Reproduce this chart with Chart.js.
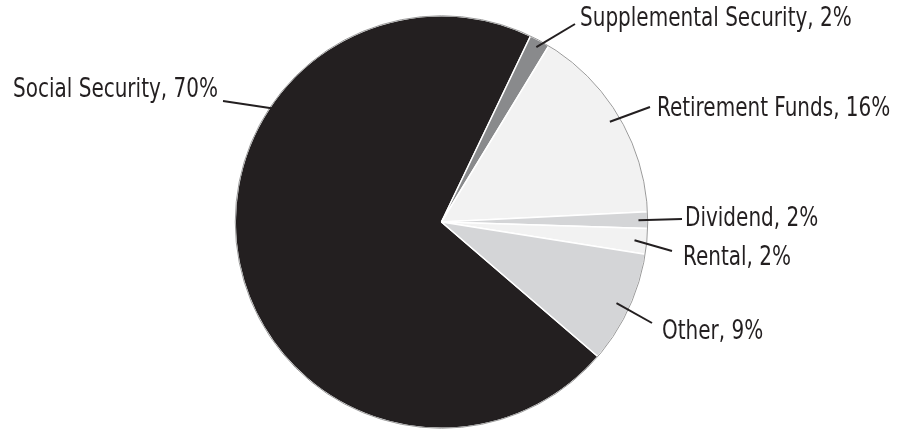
<!DOCTYPE html>
<html>
<head>
<meta charset="utf-8">
<script src="https://cdn.jsdelivr.net/npm/chart.js@4/dist/chart.umd.min.js"></script>
<style>
  html, body { margin: 0; padding: 0; background: #fff; }
  #wrap { width: 897px; height: 431px; position: relative; }
</style>
</head>
<body>
<div id="wrap"><canvas id="chartIncome"></canvas></div>
<script>
const categories = ['Social Security', 'Supplemental Security', 'Retirement Funds', 'Dividend', 'Rental', 'Other'];
const shares = [70.8, 1.6, 15.5, 1.3, 2.0, 8.8];
const pctLabels = ['70%', '2%', '16%', '2%', '2%', '9%'];
const sliceColors = ['#231f20', '#898a8c', '#f2f2f2', '#d4d5d7', '#f2f2f2', '#d4d5d7'];

// label placement: text left/baseline, leader outer end, leader angle override
const labelLayout = [
  { tx: 13, ty: 97, lx: 223, ly: 101, angle: 304, k: 0.985 },
  { tx: 580, ty: 26, lx: 575, ly: 24, k: 0.965 },
  { tx: 657, ty: 116, lx: 650, ly: 107, k: 0.95 },
  { tx: 685, ty: 226, lx: 682, ly: 219, k: 0.955 },
  { tx: 683, ty: 265, lx: 672, ly: 251, k: 0.94 },
  { tx: 662, ty: 339, lx: 652, ly: 323, k: 0.935 }
];

const INK = '#231f20';
const FONT = '26px "Liberation Sans Narrow", "DejaVu Sans Condensed", "Arial Narrow", sans-serif';
// the reference face is narrower than anything installed, squeeze to fit
const REF_WIDTH = 205; // width of "Social Security, 70%"

const outlinePlugin = {
  id: 'outline',
  afterDatasetsDraw(chart) {
    const arc = chart.getDatasetMeta(0).data[0];
    const ctx = chart.ctx;
    ctx.save();
    ctx.beginPath();
    ctx.arc(arc.x, arc.y, arc.outerRadius, 0, Math.PI * 2);
    ctx.strokeStyle = '#9a9a9a';
    ctx.lineWidth = 1;
    ctx.stroke();
    ctx.restore();
  }
};

const calloutPlugin = {
  id: 'callouts',
  afterDraw(chart) {
    const ctx = chart.ctx;
    const arcs = chart.getDatasetMeta(0).data;
    ctx.save();
    ctx.font = FONT;
    ctx.fillStyle = INK;
    ctx.strokeStyle = INK;
    ctx.lineWidth = 2;
    ctx.textAlign = 'left';
    ctx.textBaseline = 'alphabetic';
    const squeeze = REF_WIDTH / ctx.measureText(categories[0] + ', ' + pctLabels[0]).width;
    arcs.forEach((arc, i) => {
      const pos = labelLayout[i];
      let a;
      if (pos.angle !== undefined) {
        a = pos.angle * Math.PI / 180 - Math.PI / 2;
      } else {
        a = (arc.startAngle + arc.endAngle) / 2;
      }
      const ix = arc.x + Math.cos(a) * arc.outerRadius * pos.k;
      const iy = arc.y + Math.sin(a) * arc.outerRadius * pos.k;
      ctx.beginPath();
      ctx.moveTo(ix, iy);
      ctx.lineTo(pos.lx, pos.ly);
      ctx.stroke();
      ctx.save();
      ctx.translate(pos.tx, pos.ty);
      ctx.scale(squeeze, 1);
      ctx.fillText(categories[i] + ', ' + pctLabels[i], 0, 0);
      ctx.restore();
    });
    ctx.restore();
  }
};

new Chart(document.getElementById('chartIncome'), {
  type: 'pie',
  data: {
    labels: categories,
    datasets: [
      {
        data: shares,
        backgroundColor: sliceColors,
        borderColor: '#ffffff',
        borderWidth: 1.5
      }
    ]
  },
  options: {
    responsive: true,
    maintainAspectRatio: false,
    animation: false,
    rotation: 130.7,
    layout: { padding: { top: 15, bottom: 2, left: 0, right: 14 } },
    plugins: {
      legend: { display: false },
      tooltip: { enabled: false }
    }
  },
  plugins: [outlinePlugin, calloutPlugin]
});
</script>
</body>
</html>
